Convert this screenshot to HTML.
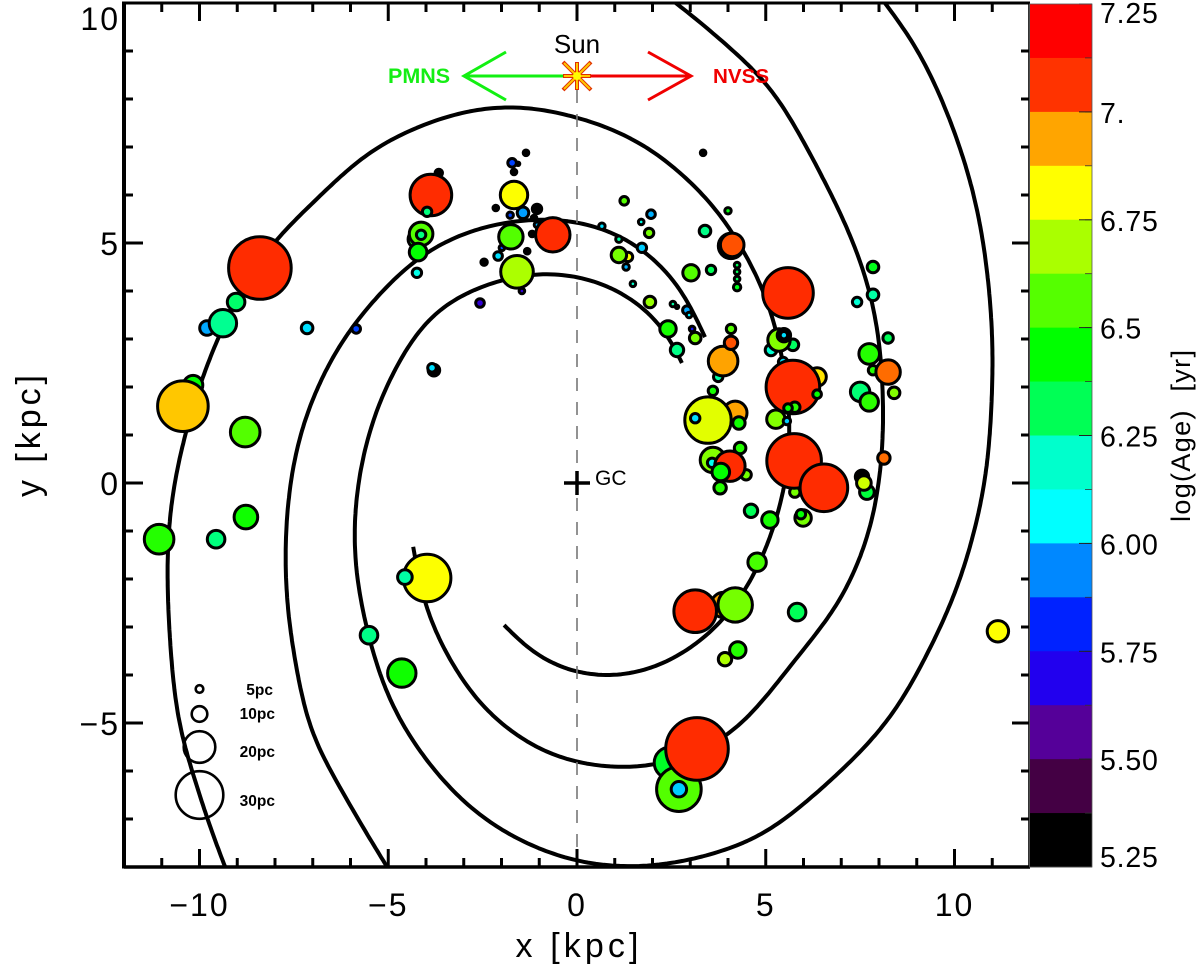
<!DOCTYPE html>
<html lang="en">
<head>
<meta charset="utf-8">
<title>Galactic spiral arms and HII regions</title>
<style>
html,body{margin:0;padding:0;background:#fff;}
svg{display:block;font-family:"Liberation Sans",sans-serif;}
</style>
</head>
<body>
<svg id="chart" width="1200" height="975" viewBox="0 0 1200 975" xmlns="http://www.w3.org/2000/svg">
  <defs>
    <clipPath id="plot-clip"><rect x="124" y="3" width="906" height="864"/></clipPath>
  </defs>
  <rect x="0" y="0" width="1200" height="975" fill="#fff"/>
  <g id="arms" clip-path="url(#plot-clip)"></g>
  <line x1="577" y1="90" x2="577" y2="867" stroke="#777" stroke-width="1.6" stroke-dasharray="13 11"/>
  <g id="regions"></g>
  <g>
    <circle cx="199.5" cy="689" r="3.8" fill="none" stroke="#000" stroke-width="2.6"/>
    <circle cx="199.5" cy="714" r="7.8" fill="none" stroke="#000" stroke-width="2.6"/>
    <circle cx="199.5" cy="747" r="15.8" fill="none" stroke="#000" stroke-width="2.6"/>
    <circle cx="199.5" cy="795" r="23.8" fill="none" stroke="#000" stroke-width="2.6"/>
    <text x="273" y="695" text-anchor="end" font-size="15.5" font-weight="bold">5pc</text>
    <text x="275" y="719" text-anchor="end" font-size="15.5" font-weight="bold">10pc</text>
    <text x="275" y="757" text-anchor="end" font-size="15.5" font-weight="bold">20pc</text>
    <text x="275" y="806" text-anchor="end" font-size="15.5" font-weight="bold">30pc</text>
  </g>
  <g>
    <line x1="564" y1="483" x2="590" y2="483" stroke="#000" stroke-width="3.5"/>
    <line x1="577" y1="471" x2="577" y2="495" stroke="#000" stroke-width="3.5"/>
    <text x="595" y="485" font-size="21">GC</text>
  </g>
  <g>
    <path d="M566 76H464M506 52L464 76L506 100" fill="none" stroke="#12f012" stroke-width="3"/>
    <path d="M588 76H691M648 52L691 76L648 100" fill="none" stroke="#f00000" stroke-width="3"/>
    <text x="388" y="83" font-size="21.5" font-weight="bold" fill="#14ee14">PMNS</text>
    <text x="713" y="83" font-size="20.6" font-weight="bold" fill="#f00000">NVSS</text>
    <text x="577" y="53" text-anchor="middle" font-size="26">Sun</text>
    <g>
      <path d="M563 76H591M577 62V90M563 62L591 90M591 62L563 90" stroke="#e03000" stroke-width="4" fill="none"/>
      <path d="M564 76H590M577 63V89M564 63L590 89M590 63L564 89" stroke="#ffc800" stroke-width="2" fill="none"/>
      <circle cx="577" cy="76" r="4" fill="#ffff00"/>
    </g>
  </g>
  <g id="axes"></g>
  <g id="colorbar"></g>
  <text x="0" y="0" transform="translate(1190,436) rotate(-90)" text-anchor="middle" font-size="27" textLength="172">log(Age)&#160;&#160;[yr]</text>
  <text x="577" y="957" text-anchor="middle" font-size="34" textLength="123">x&#160;[kpc]</text>
  <text x="0" y="0" transform="translate(40,436) rotate(-90)" text-anchor="middle" font-size="34" textLength="122">y&#160;[kpc]</text>
</svg>
<script>
// ---- spiral arm traces (kpc) ----
const armAX = [-1.93,-1.51,-0.79,0,0.79,1.48,2.38,3.26,3.87,4.66,5.11,5.51,5.67,5.51,5.25,4.85,4.05,3.52,1.93,0.34,-1.51,-2.38,-3.28,-5.03,-5.93,-6.81,-7.95,-8.79,-9.51,-9.93,-10.38,-10.70,-10.83,-10.86,-10.73,-10.52,-10.17,-9.80,-9.32];
const armAY = [-2.96,-3.38,-3.79,-4.00,-4.08,-4.02,-3.79,-3.33,-2.92,-2.02,-1.19,-0.15,1.04,2.35,3.33,4.23,5.33,5.90,7.00,7.56,7.88,7.83,7.71,7.15,6.67,5.96,5.13,4.19,3.04,2.21,1.04,-0.08,-0.98,-2.08,-3.90,-5.21,-6.04,-7.02,-8.00];
const armBX = [-4.34,-4.08,-3.71,-3.18,-2.49,-1.59,-0.72,0,1.14,2.01,4.05,5.91,6.97,7.76,8.03,8.13,8.03,7.76,7.23,6.52,5.72,5.03,4.50,3.21,2.52];
const armBY = [-1.33,-2.50,-3.21,-3.96,-4.73,-5.29,-5.71,-5.85,-5.96,-5.92,-5.29,-3.54,-2.50,-1.04,0.13,1.27,2.90,4.04,5.21,6.35,7.52,8.40,8.75,9.65,10.06];
const armCX = [3.39,2.65,1.32,0,-1.17,-2.65,-3.89,-4.69,-6.09,-6.89,-7.42,-7.68,-7.74,-7.66,-7.42,-7.07,-6.28,-5.75,-5.03];
const armCY = [3.04,4.23,5.13,5.48,5.52,5.33,4.90,4.40,3.15,2.00,0.83,-0.50,-1.54,-2.79,-3.90,-5.21,-6.33,-7.08,-8.00];
const armDX = [2.78,2.38,1.06,-0.26,-1.17,-2.04,-3.81,-5.03,-5.56,-5.83,-5.93,-5.83,-5.54,-5.03,-4.34,-3.44,-2.57,-1.70,-0.79,0,0.87,2.12,3.26,4.85,6.17,7.31,8.37,9.27,9.96,10.49,10.86,10.99,11.02,10.86,10.49,9.80,9.01,8.21,8.03];
const armDY = [2.50,3.25,4.08,4.38,4.40,4.25,3.60,2.08,0.96,-0.08,-1.13,-2.08,-3.17,-4.46,-5.42,-6.33,-6.96,-7.40,-7.71,-7.92,-8.00,-8.00,-7.81,-7.40,-6.58,-5.77,-4.85,-3.58,-2.44,-1.15,0.23,1.73,2.90,4.52,6.13,7.75,9.08,9.96,10.13];

// ---- star-forming regions: position (kpc), size (pc), log age (yr) ----
const regionX = [-3.66,-3.87,-3.97,-9.80,-9.38,-9.03,-8.40,-4.24,-4.13,-4.13,
  -4.21,-4.24,-7.15,-5.85,-2.57,-2.46,-2.15,-1.35,-1.56,-1.72,
  -1.67,-1.67,-1.77,-1.43,-1.06,-1.14,-1.06,-1.19,-0.64,-1.99,
  -1.75,-2.09,-1.32,-1.46,-1.59,-3.79,-3.84,1.25,1.96,1.70,
  0.66,1.91,1.11,1.72,1.35,1.11,1.30,1.48,1.93,2.54,
  2.65,2.91,2.97,3.05,3.13,2.41,2.65,3.39,3.02,3.55,
  3.34,4.00,4.08,4.11,4.24,4.24,4.24,4.24,5.59,7.84,
  7.84,7.42,8.24,7.84,7.74,8.24,8.40,7.50,7.74,5.14,
  5.72,5.35,5.48,5.48,5.46,6.36,5.27,5.72,6.36,5.77,
  5.59,5.56,4.08,3.74,3.87,4.08,3.60,4.19,3.47,3.13,
  4.29,3.60,4.32,4.48,3.58,4.05,3.81,3.79,5.77,5.75,
  6.54,4.61,5.11,5.99,5.93,4.77,7.55,7.68,7.60,8.13,
  3.89,3.13,4.19,5.83,4.26,3.92,2.46,2.70,2.70,3.18,
  -10.17,-10.44,-8.79,-8.77,-9.56,-11.07,-3.97,-4.56,-5.51,-4.64,
  11.15];
const regionY = [6.46,6.00,5.65,3.23,3.33,3.77,4.48,5.08,5.19,5.17,
  4.81,4.38,3.23,3.21,3.75,4.60,5.73,6.88,6.65,6.67,
  6.48,6.00,5.58,5.63,5.71,5.52,5.38,5.19,5.17,4.90,
  5.13,4.73,4.83,4.00,4.40,2.35,2.40,5.88,5.60,5.44,
  5.35,5.21,5.08,4.90,4.71,4.75,4.50,4.15,3.77,3.73,
  3.67,3.60,3.50,3.21,3.02,3.21,2.77,5.25,4.38,4.44,
  6.88,5.67,4.94,4.96,4.54,4.40,4.25,4.08,3.96,4.50,
  3.92,3.77,3.02,2.35,2.69,2.31,1.88,1.90,1.69,2.77,
  2.88,2.98,3.08,3.08,2.52,2.21,1.33,2.00,1.85,1.58,
  1.56,1.29,3.21,2.21,2.54,2.92,1.92,1.46,1.31,1.35,
  1.25,0.48,0.73,0.17,0.42,0.35,0.23,-0.10,-0.19,0.46,
  -0.10,-0.58,-0.77,-0.73,-0.65,-1.65,0.13,-0.19,0.00,0.52,
  -2.54,-2.67,-2.54,-2.69,-3.48,-3.67,-5.83,-6.38,-6.38,-5.54,
  2.04,1.60,1.06,-0.71,-1.17,-1.17,-1.98,-1.96,-3.17,-3.96,
  -3.09];
const regionSize = [4.7,26.3,6,9.2,17.4,11.1,39.6,11.1,14.9,6,
  11.1,6,7.3,5.4,5.4,4.1,3.5,3.5,2.2,5.4,
  3.5,17.4,4.1,7.3,6,3.5,3.5,3.5,21.8,3.5,
  15.5,5.4,3.5,3.5,20.6,7.3,5.4,5.4,5.4,3.5,
  4.1,6,4.1,6,6,9.8,4.1,3.5,7.3,3.5,
  2.2,5.4,3.5,3.5,7.3,10.4,8.5,7.3,10.4,6,
  3.5,4.1,16.1,14.9,3.5,3.5,3.5,4.7,32,7.3,
  7.3,6,6.6,6,13,15.5,7.3,12.3,11.7,7.3,
  7.3,14.2,8.5,4.7,6,11.7,11.7,33.9,5.4,6.6,
  5.4,4.7,6,6,18.7,8.5,6,14.9,29.4,6,
  7.9,16.1,7.3,6.6,6,19.3,11.1,7.9,6.6,34.5,
  30.1,8.5,10.4,10.4,6,11.7,8.5,9.2,9.2,7.9,
  16.1,26.9,21.8,11.1,10.4,8.5,19.9,28.2,9.8,39.6,
  12.3,32,18.7,14.9,11.1,18.7,30.1,9.2,11.1,18,
  13.6];
const regionAge = [5.3,7.08,6.27,5.97,6.25,6.29,7.08,6.44,6.56,6.27,
  6.44,6.12,6.03,5.85,5.65,5.3,5.3,5.3,5.3,5.85,
  5.3,6.81,5.85,5.96,5.3,5.3,5.98,5.3,7.08,5.87,
  6.56,6.03,5.3,5.65,6.69,5.3,6.03,6.56,5.98,6.12,
  6.03,6.61,6.23,6.01,6.81,6.61,5.98,6.19,6.66,6.23,
  6.01,5.97,6.05,5.75,6.61,6.47,6.26,6.26,6.56,6.31,
  5.3,6.42,7.03,7.03,6.31,6.31,6.31,6.4,7.08,6.4,
  6.23,6.17,6.31,6.49,6.49,7.0,6.63,6.28,6.5,6.17,
  6.3,6.63,5.3,6.03,6.03,6.85,6.63,7.08,6.44,6.5,
  6.44,6.01,6.56,6.23,6.94,7.03,6.47,6.94,6.77,6.03,
  6.46,6.63,6.49,6.61,6.1,7.08,6.44,6.49,6.61,7.08,
  7.08,6.31,6.47,6.61,6.44,6.54,5.3,6.35,6.74,7.0,
  6.94,7.08,6.61,6.31,6.49,6.69,6.38,6.56,6.01,7.08,
  6.44,6.89,6.56,6.46,6.27,6.49,6.81,6.23,6.26,6.46,
  6.81];

// ---- axes ----
const xMajorTicks = [-10,-5,0,5,10];
const xMinorTicks = [-11,-9,-8,-7,-6,-4,-3,-2,-1,1,2,3,4,6,7,8,9,11];
const yMajorTicks = [-5,0,5,10];
const yMinorTicks = [-7,-6,-4,-3,-2,-1,1,2,3,4,6,7,8,9];
const xTickLabels = ['−10','−5','0','5','10'];
const yTickLabels = ['−5','0','5','10'];

// ---- colorbar (top band first) ----
const bandColors = ['#ff0000','#ff3300','#ffa500','#ffff00','#aaff00','#55ff00','#00ff00','#00ff55','#00ffcc','#00ffff','#0088ff','#0022ff','#2200ee','#550099','#440044','#000000'];
const ageTicks = [5.25,5.5,5.75,6,6.25,6.5,6.75,7,7.25];
const ageTickLabels = ['5.25','5.50','5.75','6.00','6.25','6.5','6.75','7.','7.25'];

const NS = 'http://www.w3.org/2000/svg';
const sx = v => 577 + v * 37.75;
const sy = v => 483 - v * 48;
const sr = pc => pc * 0.79;
const AGE_MIN = 5.25, AGE_MAX = 7.25, BAR_TOP = 4, BAR_BOTTOM = 867;
const ageY = a => BAR_BOTTOM - (a - AGE_MIN) / (AGE_MAX - AGE_MIN) * (BAR_BOTTOM - BAR_TOP);

function make(tag, parent) {
  const el = document.createElementNS(NS, tag);
  parent.appendChild(el);
  return el;
}
function hexRgb(h) {
  return [parseInt(h.slice(1,3),16), parseInt(h.slice(3,5),16), parseInt(h.slice(5,7),16)];
}
function ageColor(a) {
  const n = bandColors.length;
  const step = (AGE_MAX - AGE_MIN) / n;
  let f = (AGE_MAX - step / 2 - a) / step;
  f = Math.max(0, Math.min(n - 1, f));
  const i = Math.min(n - 2, Math.floor(f));
  const t = f - i;
  const c0 = hexRgb(bandColors[i]), c1 = hexRgb(bandColors[i + 1]);
  const c = c0.map((v, k) => Math.round(v + (c1[k] - v) * t));
  return 'rgb(' + c.join(',') + ')';
}
// Draw a traced arm: map through the axes, resample evenly along the trace,
// then low-pass the hand-read wobble while keeping both end points.
function smoothPath(xs, ys) {
  const p = xs.map((x, i) => [sx(x), sy(ys[i])]);
  const dense = [];
  for (let i = 0; i < p.length - 1; i++) {
    const p0 = p[Math.max(0, i - 1)], p1 = p[i], p2 = p[i + 1], p3 = p[Math.min(p.length - 1, i + 2)];
    for (let s = 0; s < 16; s++) {
      const t = s / 16, t2 = t * t, t3 = t2 * t;
      dense.push([0, 1].map(k => 0.5 * (2 * p1[k] + (p2[k] - p0[k]) * t + (2 * p0[k] - 5 * p1[k] + 4 * p2[k] - p3[k]) * t2 + (3 * p1[k] - p0[k] - 3 * p2[k] + p3[k]) * t3)));
    }
  }
  dense.push(p[p.length - 1]);
  const STEP = 4;
  const even = [dense[0]];
  let carry = 0;
  for (let i = 1; i < dense.length; i++) {
    const a = dense[i - 1], b = dense[i];
    const d = Math.hypot(b[0] - a[0], b[1] - a[1]);
    let pos = STEP - carry;
    while (pos <= d) {
      even.push([a[0] + (b[0] - a[0]) * pos / d, a[1] + (b[1] - a[1]) * pos / d]);
      pos += STEP;
    }
    carry = (carry + d) % STEP;
  }
  even.push(dense[dense.length - 1]);
  const N = even.length, SIGMA = 8, HALF = 24;
  const at = function (i, k) {
    if (i < 0) return 2 * even[0][k] - even[Math.min(-i, N - 1)][k];
    if (i >= N) return 2 * even[N - 1][k] - even[Math.max(2 * N - 2 - i, 0)][k];
    return even[i][k];
  };
  let d = '';
  for (let i = 0; i < N; i++) {
    let sumX = 0, sumY = 0, sumW = 0;
    for (let j = -HALF; j <= HALF; j++) {
      const w = Math.exp(-j * j / (2 * SIGMA * SIGMA));
      sumX += w * at(i + j, 0);
      sumY += w * at(i + j, 1);
      sumW += w;
    }
    d += (i ? 'L' : 'M') + (sumX / sumW).toFixed(1) + ' ' + (sumY / sumW).toFixed(1);
  }
  return d;
}
function tick(parent, x1, y1, x2, y2, w) {
  const t = make('line', parent);
  t.setAttribute('x1', x1);
  t.setAttribute('y1', y1);
  t.setAttribute('x2', x2);
  t.setAttribute('y2', y2);
  t.setAttribute('stroke', '#000');
  t.setAttribute('stroke-width', w);
  
  
  return t;
}

// arms
const armsG = document.getElementById('arms');
[[armAX, armAY], [armBX, armBY], [armCX, armCY], [armDX, armDY]].forEach(function (arm) {
  const path = make('path', armsG);
  path.setAttribute('d', smoothPath(arm[0], arm[1]));
  path.setAttribute('fill', 'none');
  path.setAttribute('stroke', '#000');
  path.setAttribute('stroke-width', '4');
  path.setAttribute('stroke-linejoin', 'round');
  
  
});

// regions
const regionsG = document.getElementById('regions');
regionX.forEach(function (x, i) {
  const c = make('circle', regionsG);
  c.setAttribute('cx', sx(x).toFixed(1));
  c.setAttribute('cy', sy(regionY[i]).toFixed(1));
  c.setAttribute('r', sr(regionSize[i]).toFixed(1));
  c.setAttribute('fill', ageColor(regionAge[i]));
  c.setAttribute('stroke', '#000');
  c.setAttribute('stroke-width', '3');
  
  
});

// axes
const axesG = document.getElementById('axes');
const frame = [[122.5,3,1030,3,3],[124,867,1030,867,3.4],[124,1.5,124,868.5,4],[1029,3,1029,867,1.6]];
frame.forEach(function (f) {
  const l = tick(axesG, f[0], f[1], f[2], f[3], f[4]);
  
});
xMinorTicks.forEach(function (v) {
  tick(axesG, sx(v), 3, sx(v), 12, 3);
  tick(axesG, sx(v), 867, sx(v), 858, 3);
});
xMajorTicks.forEach(function (v, i) {
  tick(axesG, sx(v), 3, sx(v), 21, 3);
  tick(axesG, sx(v), 867, sx(v), 849, 3);
  const t = make('text', axesG);
  t.setAttribute('x', sx(v));
  t.setAttribute('y', 916);
  t.setAttribute('text-anchor', 'middle');
  t.setAttribute('font-size', '32');
  t.setAttribute('letter-spacing', '2');
  
  
  t.textContent = xTickLabels[i];
});
yMinorTicks.forEach(function (v) {
  tick(axesG, 124, sy(v), 133, sy(v), 3);
  tick(axesG, 1029, sy(v), 1021, sy(v), 3);
});
yMajorTicks.forEach(function (v, i) {
  tick(axesG, 124, sy(v), 143, sy(v), 3);
  tick(axesG, 1029, sy(v), 1012, sy(v), 3);
  const t = make('text', axesG);
  t.setAttribute('x', 120);
  t.setAttribute('y', Math.max(sy(v) + 12, 30));
  t.setAttribute('text-anchor', 'end');
  t.setAttribute('font-size', '32');
  t.setAttribute('letter-spacing', '2');
  
  
  t.textContent = yTickLabels[i];
});

// colorbar
const barG = document.getElementById('colorbar');
const bandH = (BAR_BOTTOM - BAR_TOP) / bandColors.length;
bandColors.forEach(function (col, i) {
  const r = make('rect', barG);
  r.setAttribute('x', 1030);
  r.setAttribute('y', (BAR_TOP + i * bandH).toFixed(2));
  r.setAttribute('width', 62);
  r.setAttribute('height', (bandH + 0.4).toFixed(2));
  r.setAttribute('fill', col);
  
  
});
for (let i = 1; i < bandColors.length; i++) {
  const yy = BAR_TOP + i * bandH;
  const n = make('line', barG);
  n.setAttribute('x1', 1085);
  n.setAttribute('x2', 1092);
  n.setAttribute('y1', yy.toFixed(1));
  n.setAttribute('y2', yy.toFixed(1));
  n.setAttribute('stroke', '#333');
  n.setAttribute('stroke-width', '0.8');
  
  
}
ageTicks.forEach(function (a, i) {
  const yy = ageY(a);
  const n = make('line', barG);
  n.setAttribute('x1', 1079);
  n.setAttribute('x2', 1092);
  n.setAttribute('y1', yy.toFixed(1));
  n.setAttribute('y2', yy.toFixed(1));
  n.setAttribute('stroke', '#222');
  n.setAttribute('stroke-width', '1');
  
  
  const t = make('text', barG);
  t.setAttribute('x', 1100);
  t.setAttribute('y', Math.min(Math.max(yy + 11, 23), 867).toFixed(1));
  t.setAttribute('font-size', '28.5');
  t.setAttribute('letter-spacing', '0.8');
  
  
  t.textContent = ageTickLabels[i];
});
const barEdge = make('rect', barG);
barEdge.setAttribute('x', 1029.5);
barEdge.setAttribute('y', BAR_TOP);
barEdge.setAttribute('width', 62.5);
barEdge.setAttribute('height', BAR_BOTTOM - BAR_TOP);
barEdge.setAttribute('fill', 'none');
barEdge.setAttribute('stroke', '#555');
barEdge.setAttribute('stroke-width', '0.8');


</script>
</body>
</html>
